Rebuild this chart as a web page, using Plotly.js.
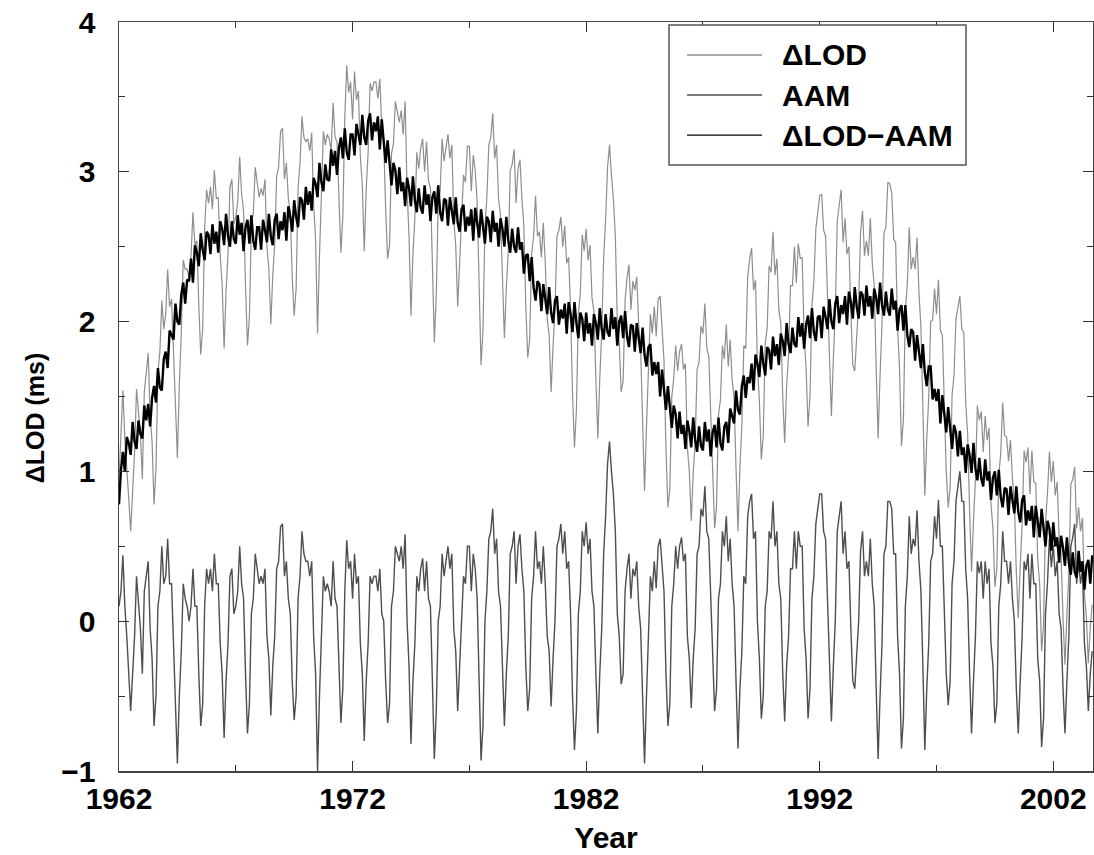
<!DOCTYPE html>
<html>
<head>
<meta charset="utf-8">
<script src="https://cdn.plot.ly/plotly-3.0.1.min.js"></script>
<style>
html,body{margin:0;padding:0;background:#ffffff;}
#chart{width:1094px;height:855px;}
</style>
</head>
<body>
<div id="chart"></div>
<script>
// Monthly samples starting January 1962 (one row per year)
const startYear = 1962;
const samplesPerYear = 12;

// ΔLOD (ms) – light grey curve
const lod = [
0.95,1.25,1.54,1.22,1.05,0.82,0.6,0.86,1.13,1.55,1.37,1.25,
0.95,1.53,1.66,1.79,1.37,1.2,0.78,1.02,1.66,1.8,2.14,1.95,
2.05,2.35,2.1,2.15,1.8,1.45,1.09,1.58,1.92,2.41,2.35,2.35,
2.3,2.44,2.73,2.51,2.54,2.11,1.78,1.95,2.62,2.88,2.79,2.9,
2.75,3.01,2.82,2.83,2.44,2.25,1.82,2.2,2.45,2.9,2.95,2.65,
2.7,2.8,3.1,2.85,2.74,2.24,1.84,2.03,2.63,2.73,3.03,2.93,
2.83,2.89,2.84,2.95,2.5,2.35,1.98,2.31,2.52,2.97,3.03,3.27,
3.29,2.95,3.06,2.82,2.73,2.29,2.04,2.22,2.89,3.06,3.37,3.23,
3.2,3.22,3.14,3.26,2.78,2.55,1.92,2.44,2.81,3.27,3.18,3.25,
3.22,3.14,3.46,3.23,3.2,2.77,2.46,2.7,3.36,3.71,3.53,3.6,
3.35,3.67,3.48,3.54,3.1,2.91,2.47,2.88,3.13,3.59,3.54,3.6,
3.6,3.49,3.62,3.3,3.2,2.75,2.42,2.51,3.12,3.19,3.47,3.4,
3.33,3.41,3.25,3.47,2.88,2.57,2.04,2.45,2.69,3.13,3.02,3.16,
3.22,3.0,3.2,2.94,2.89,2.39,1.86,2.18,2.78,2.87,3.22,3.07,
3.17,3.25,3.09,3.18,2.67,2.51,2.1,2.4,2.59,2.98,2.93,3.17,
3.17,2.87,3.11,3.01,2.8,2.2,1.71,1.94,2.63,2.83,3.18,3.23,
3.39,3.09,3.18,2.82,2.71,2.3,1.89,2.23,2.47,3.01,3.05,3.15,
2.79,3.02,3.08,2.82,2.64,2.1,1.76,1.88,2.45,2.57,2.84,2.57,
2.6,2.43,2.66,2.39,2.02,1.91,1.53,1.84,2.08,2.57,2.61,2.7,
2.5,2.64,2.39,2.43,2.08,1.52,1.16,1.41,2.05,2.19,2.58,2.47,
2.62,2.41,2.51,2.16,2.07,1.62,1.22,1.62,1.93,2.43,2.68,3.03,
3.18,2.98,2.82,2.57,2.01,1.86,1.53,1.6,2.14,2.29,2.38,2.08,
2.27,2.21,2.3,1.98,1.81,1.34,0.87,1.3,1.62,2.05,1.92,2.1,
1.9,2.15,2.17,1.93,1.74,1.15,0.76,0.88,1.5,1.62,1.84,1.67,
1.8,1.85,1.68,1.72,1.16,1.0,0.67,0.99,1.19,1.68,1.73,1.97,
1.92,2.12,1.82,1.77,1.37,0.92,0.62,0.77,1.38,1.48,1.84,1.75,
1.98,1.7,1.88,1.61,1.49,1.02,0.6,1.03,1.31,1.84,1.82,2.3,
2.42,2.49,2.21,2.28,1.7,1.47,1.08,1.24,1.85,1.96,2.37,2.33,
2.6,2.31,2.42,2.08,1.99,1.5,1.19,1.57,1.78,2.24,2.24,2.5,
2.26,2.52,2.42,2.43,1.89,1.69,1.3,1.5,2.11,2.27,2.62,2.73,
2.84,2.85,2.61,2.57,2.17,1.68,1.37,1.75,2.06,2.67,2.77,2.88,
2.53,2.69,2.45,2.5,2.06,1.71,1.67,1.92,2.13,2.6,2.74,2.44,
2.54,2.44,2.69,2.39,2.24,1.69,1.22,1.64,1.99,2.59,2.63,2.93,
2.92,2.86,2.55,2.53,1.96,1.69,1.17,1.35,2.08,2.25,2.63,2.35,
2.43,2.35,2.56,2.19,1.96,1.43,0.84,1.22,1.49,2.0,2.01,2.22,
2.05,2.28,1.94,1.91,1.38,1.0,0.76,0.89,1.51,1.64,2.02,2.1,
2.17,1.95,1.93,1.46,1.25,0.74,0.33,0.67,0.95,1.44,1.34,1.4,
1.13,1.37,1.21,1.29,0.78,0.62,0.23,0.35,0.98,1.12,1.46,1.24,
1.23,1.07,1.21,0.95,0.79,0.33,0.02,0.36,0.65,1.14,1.06,1.16,
0.85,1.14,0.93,0.92,0.41,0.25,-0.2,-0.02,0.66,0.85,1.13,0.93,
1.07,0.84,0.93,0.56,0.44,0.02,-0.29,0.04,0.32,0.91,0.95,1.03,
0.62,0.76,0.6,0.69,0.18,0.03,-0.28,-0.04,0.11
];

// AAM (ms) – dark grey curve
const aam = [
0.1,0.2,0.44,0.1,-0.1,-0.35,-0.6,-0.35,-0.1,0.3,0.1,-0.05,
-0.35,0.2,0.3,0.4,-0.05,-0.25,-0.7,-0.5,0.1,0.2,0.5,0.25,
0.3,0.55,0.25,0.25,-0.15,-0.55,-0.95,-0.5,-0.2,0.25,0.15,0.1,
0.0,0.1,0.35,0.1,0.1,-0.35,-0.7,-0.55,0.1,0.35,0.25,0.35,
0.2,0.45,0.25,0.25,-0.15,-0.35,-0.78,-0.4,-0.15,0.3,0.35,0.05,
0.1,0.2,0.5,0.25,0.15,-0.35,-0.75,-0.55,0.05,0.15,0.45,0.35,
0.25,0.3,0.25,0.35,-0.1,-0.25,-0.63,-0.3,-0.1,0.35,0.4,0.63,
0.65,0.3,0.4,0.15,0.05,-0.4,-0.66,-0.5,0.15,0.3,0.6,0.45,
0.4,0.4,0.3,0.4,-0.1,-0.35,-1.0,-0.5,-0.15,0.3,0.2,0.25,
0.2,0.1,0.4,0.15,0.1,-0.35,-0.68,-0.45,0.2,0.54,0.35,0.4,
0.15,0.45,0.25,0.3,-0.15,-0.35,-0.8,-0.4,-0.15,0.3,0.25,0.3,
0.3,0.2,0.35,0.05,0.0,-0.4,-0.68,-0.55,0.1,0.2,0.5,0.45,
0.4,0.5,0.35,0.58,0.0,-0.3,-0.82,-0.4,-0.15,0.3,0.2,0.35,
0.42,0.2,0.4,0.15,0.1,-0.4,-0.92,-0.6,0.0,0.1,0.45,0.3,
0.41,0.5,0.35,0.45,-0.05,-0.2,-0.6,-0.3,-0.1,0.3,0.25,0.5,
0.5,0.2,0.45,0.35,0.15,-0.45,-0.93,-0.7,0.0,0.2,0.55,0.6,
0.75,0.45,0.55,0.2,0.1,-0.3,-0.7,-0.35,-0.1,0.45,0.5,0.6,
0.25,0.5,0.58,0.35,0.2,-0.3,-0.6,-0.45,0.15,0.3,0.6,0.35,
0.4,0.25,0.5,0.25,-0.1,-0.2,-0.57,-0.25,0.0,0.5,0.55,0.65,
0.45,0.6,0.35,0.4,0.05,-0.5,-0.86,-0.6,0.05,0.2,0.6,0.5,
0.66,0.45,0.55,0.2,0.1,-0.35,-0.75,-0.35,-0.05,0.45,0.7,1.05,
1.2,1.0,0.85,0.6,0.05,-0.1,-0.42,-0.35,0.2,0.35,0.45,0.15,
0.35,0.3,0.4,0.1,-0.05,-0.5,-0.95,-0.5,-0.15,0.3,0.2,0.4,
0.22,0.5,0.55,0.35,0.2,-0.35,-0.7,-0.55,0.1,0.25,0.5,0.35,
0.5,0.56,0.4,0.45,-0.1,-0.25,-0.58,-0.25,-0.05,0.45,0.5,0.75,
0.7,0.9,0.6,0.55,0.15,-0.3,-0.6,-0.45,0.15,0.25,0.6,0.5,
0.7,0.4,0.55,0.25,0.1,-0.4,-0.85,-0.45,-0.2,0.3,0.25,0.7,
0.8,0.85,0.55,0.6,0.0,-0.25,-0.65,-0.5,0.1,0.2,0.6,0.55,
0.8,0.5,0.6,0.25,0.15,-0.35,-0.67,-0.3,-0.1,0.35,0.35,0.6,
0.35,0.6,0.5,0.5,-0.05,-0.25,-0.65,-0.45,0.15,0.3,0.65,0.75,
0.85,0.85,0.6,0.55,0.15,-0.35,-0.67,-0.3,0.0,0.6,0.7,0.8,
0.45,0.6,0.35,0.4,-0.05,-0.4,-0.45,-0.2,0.0,0.47,0.6,0.3,
0.4,0.3,0.55,0.25,0.1,-0.45,-0.92,-0.5,-0.15,0.45,0.5,0.8,
0.8,0.75,0.45,0.45,-0.1,-0.35,-0.85,-0.65,0.1,0.3,0.7,0.45,
0.55,0.5,0.74,0.4,0.2,-0.3,-0.86,-0.45,-0.15,0.4,0.45,0.7,
0.55,0.81,0.5,0.5,0.0,-0.35,-0.56,-0.4,0.25,0.4,0.8,0.9,
1.0,0.8,0.8,0.35,0.15,-0.35,-0.75,-0.4,-0.1,0.4,0.32,0.4,
0.15,0.4,0.25,0.35,-0.15,-0.3,-0.68,-0.55,0.1,0.25,0.6,0.4,
0.4,0.25,0.4,0.15,0.0,-0.45,-0.75,-0.4,-0.1,0.4,0.34,0.45,
0.15,0.45,0.25,0.25,-0.25,-0.4,-0.84,-0.65,0.05,0.25,0.55,0.36,
0.51,0.3,0.4,0.05,-0.05,-0.45,-0.75,-0.4,-0.1,0.5,0.56,0.65,
0.25,0.4,0.25,0.35,-0.15,-0.3,-0.6,-0.35,-0.2
];

// ΔLOD−AAM (ms) – black curve
const residual = [
0.78,1.01,1.13,1.0,1.23,1.19,1.11,1.33,1.2,1.15,1.34,1.25,
1.22,1.44,1.34,1.45,1.3,1.49,1.57,1.46,1.69,1.56,1.54,1.75,
1.8,1.69,1.94,1.91,1.88,2.12,2.0,1.98,2.18,2.26,2.12,2.28,
2.27,2.42,2.26,2.51,2.46,2.37,2.59,2.48,2.41,2.6,2.58,2.45,
2.65,2.52,2.6,2.46,2.67,2.62,2.51,2.72,2.57,2.5,2.67,2.55,
2.52,2.71,2.58,2.66,2.47,2.63,2.68,2.52,2.71,2.54,2.48,2.63,
2.63,2.48,2.68,2.61,2.53,2.72,2.57,2.51,2.68,2.72,2.55,2.67,
2.61,2.73,2.54,2.77,2.7,2.6,2.81,2.7,2.63,2.83,2.81,2.68,
2.9,2.78,2.87,2.74,2.96,2.92,2.83,3.06,2.93,2.87,3.05,2.95,
2.94,3.15,3.04,3.14,2.98,3.16,3.23,3.09,3.29,3.13,3.08,3.25,
3.25,3.11,3.32,3.25,3.18,3.38,3.23,3.18,3.34,3.39,3.21,3.33,
3.27,3.37,3.15,3.35,3.22,3.06,3.21,3.04,2.91,3.06,3.01,2.85,
3.03,2.87,2.93,2.77,2.96,2.89,2.77,2.97,2.81,2.73,2.89,2.76,
2.72,2.91,2.78,2.85,2.67,2.83,2.87,2.72,2.91,2.73,2.67,2.82,
2.81,2.64,2.83,2.74,2.65,2.83,2.66,2.6,2.75,2.78,2.6,2.7,
2.64,2.75,2.54,2.76,2.67,2.56,2.75,2.62,2.52,2.7,2.67,2.53,
2.74,2.6,2.66,2.5,2.69,2.62,2.5,2.7,2.54,2.46,2.62,2.5,
2.46,2.63,2.48,2.53,2.32,2.44,2.45,2.27,2.43,2.23,2.14,2.27,
2.25,2.07,2.25,2.15,2.05,2.23,2.06,1.99,2.14,2.17,1.98,2.08,
2.02,2.12,1.92,2.13,2.05,1.93,2.13,1.99,1.89,2.06,2.02,1.87,
2.06,1.92,1.99,1.84,2.05,1.99,1.88,2.09,1.95,1.88,2.05,1.93,
1.9,2.09,1.95,2.03,1.84,2.0,2.04,1.89,2.07,1.9,1.83,1.98,
1.97,1.8,1.99,1.89,1.79,1.96,1.78,1.7,1.83,1.85,1.64,1.73,
1.65,1.73,1.5,1.68,1.56,1.41,1.57,1.41,1.29,1.44,1.38,1.22,
1.4,1.25,1.31,1.15,1.34,1.27,1.16,1.36,1.21,1.13,1.3,1.17,
1.14,1.33,1.2,1.28,1.1,1.26,1.31,1.16,1.36,1.19,1.14,1.3,
1.33,1.19,1.42,1.37,1.32,1.54,1.41,1.38,1.57,1.64,1.49,1.63,
1.59,1.72,1.54,1.78,1.72,1.63,1.84,1.72,1.64,1.83,1.81,1.68,
1.9,1.77,1.85,1.71,1.92,1.87,1.77,1.99,1.85,1.79,1.96,1.85,
1.83,2.03,1.9,1.99,1.82,1.98,2.04,1.89,2.09,1.93,1.87,2.03,
2.04,1.89,2.1,2.03,1.95,2.15,2.0,1.95,2.12,2.17,1.99,2.11,
2.05,2.17,1.98,2.2,2.13,2.02,2.23,2.1,2.02,2.2,2.18,2.04,
2.24,2.1,2.17,2.02,2.22,2.16,2.05,2.26,2.11,2.04,2.2,2.08,
2.04,2.22,2.08,2.14,1.94,2.08,2.11,1.94,2.11,1.91,1.83,1.95,
1.93,1.74,1.91,1.8,1.69,1.85,1.66,1.57,1.7,1.7,1.48,1.55,
1.47,1.55,1.32,1.51,1.4,1.26,1.43,1.27,1.15,1.31,1.26,1.1,
1.27,1.11,1.16,0.99,1.18,1.11,0.99,1.19,1.02,0.94,1.09,0.95,
0.9,1.08,0.94,1.0,0.81,0.96,1.0,0.84,1.01,0.83,0.76,0.89,
0.88,0.71,0.9,0.81,0.72,0.9,0.73,0.66,0.81,0.84,0.64,0.74,
0.67,0.77,0.56,0.77,0.68,0.56,0.75,0.61,0.5,0.67,0.62,0.47,
0.66,0.5,0.56,0.39,0.57,0.49,0.37,0.56,0.39,0.31,0.46,0.33,
0.29,0.47,0.33,0.4,0.21,0.37,0.41,0.25,0.44
];

const seriesNames = ['\u0394LOD', 'AAM', '\u0394LOD\u2212AAM'];
const seriesColors = ['#8e8e8e', '#4e4e4e', '#000000'];
const xTickVals = [1962, 1972, 1982, 1992, 2002];
const xMinorTickVals = [1967, 1977, 1987, 1997];
const yTickVals = [-1, 0, 1, 2, 3, 4];
const yMinorTickVals = [-0.5, 0.5, 1.5, 2.5, 3.5];
const xTitle = 'Year';
const yTitle = '\u0394LOD (ms)';

const years = lod.map((_, i) => startYear + i / samplesPerYear);

const FONT = 'Liberation Sans, Arial, Helvetica, sans-serif';

const traces = [
  {x: years, y: lod, name: seriesNames[0], type: 'scatter', mode: 'lines',
   line: {color: seriesColors[0], width: 1.2}, showlegend: false},
  {x: years, y: aam, name: seriesNames[1], type: 'scatter', mode: 'lines',
   line: {color: seriesColors[1], width: 1.4}, showlegend: false},
  {x: years, y: residual, name: seriesNames[2], type: 'scatter', mode: 'lines',
   line: {color: seriesColors[2], width: 2.4}, showlegend: false}
];

// legend drawn as a framed box in paper coordinates
const legX0 = 0.5647, legX1 = 0.8696, legYTop = 0.996, legYBot = 0.809;
const legLineX0 = 0.5832, legLineX1 = 0.6602, legTextX = 0.6786;
const legRows = [0.956, 0.9025, 0.849];

const shapes = [
  {type: 'rect', xref: 'paper', yref: 'paper', x0: legX0, x1: legX1, y0: legYBot, y1: legYTop,
   line: {color: '#555', width: 1.5}, fillcolor: '#ffffff', layer: 'above'}
];
const annotations = [];
seriesNames.forEach((nm, k) => {
  shapes.push({type: 'line', xref: 'paper', yref: 'paper', x0: legLineX0, x1: legLineX1,
    y0: legRows[k], y1: legRows[k], line: {color: seriesColors[k], width: 1.4}, layer: 'above'});
  annotations.push({xref: 'paper', yref: 'paper', x: legTextX, y: legRows[k], xanchor: 'left',
    yanchor: 'middle', text: nm, showarrow: false,
    font: {family: FONT, size: 30, weight: 'bold', color: '#000'}});
});
// y-axis title (placed slightly below the axis centre, as in the source figure)
annotations.push({xref: 'paper', yref: 'paper', x: -0.0862, y: 0.471, xanchor: 'center', yanchor: 'middle',
  text: yTitle, textangle: -90, showarrow: false,
  font: {family: FONT, size: 25, weight: 'bold', color: '#000'}});

const layout = {
  width: 1094, height: 855,
  margin: {l: 119, r: 1, t: 22, b: 84, pad: 0},
  paper_bgcolor: '#ffffff', plot_bgcolor: '#ffffff',
  showlegend: false,
  font: {family: FONT, color: '#000'},
  xaxis: {
    range: [1962, 2003.7], tickmode: 'array', tickvals: xTickVals,
    ticks: 'inside', ticklen: 10, tickwidth: 1.3, tickcolor: '#333',
    minor: {tickmode: 'array', tickvals: xMinorTickVals, ticks: 'inside', ticklen: 6, tickwidth: 1.1, tickcolor: '#333'},
    showline: true, linecolor: '#444', linewidth: 1.5, mirror: 'ticks',
    showgrid: false, zeroline: false,
    tickfont: {family: FONT, size: 30, weight: 'bold', color: '#000'},
    ticklabelstandoff: 0,
    title: {text: xTitle, font: {family: FONT, size: 30, weight: 'bold', color: '#000'}, standoff: 13},
    automargin: false
  },
  yaxis: {
    range: [-1, 4], tickmode: 'array', tickvals: yTickVals,
    ticks: 'inside', ticklen: 10, tickwidth: 1.3, tickcolor: '#333',
    minor: {tickmode: 'array', tickvals: yMinorTickVals, ticks: 'inside', ticklen: 6, tickwidth: 1.1, tickcolor: '#333'},
    showline: true, linecolor: '#444', linewidth: 1.5, mirror: 'ticks',
    showgrid: false, zeroline: false,
    tickfont: {family: FONT, size: 30, weight: 'bold', color: '#000'},
    ticklabelstandoff: 16,
    automargin: false
  },
  shapes: shapes,
  annotations: annotations
};

Plotly.newPlot('chart', traces, layout, {displayModeBar: false, staticPlot: true});
</script>
</body>
</html>
